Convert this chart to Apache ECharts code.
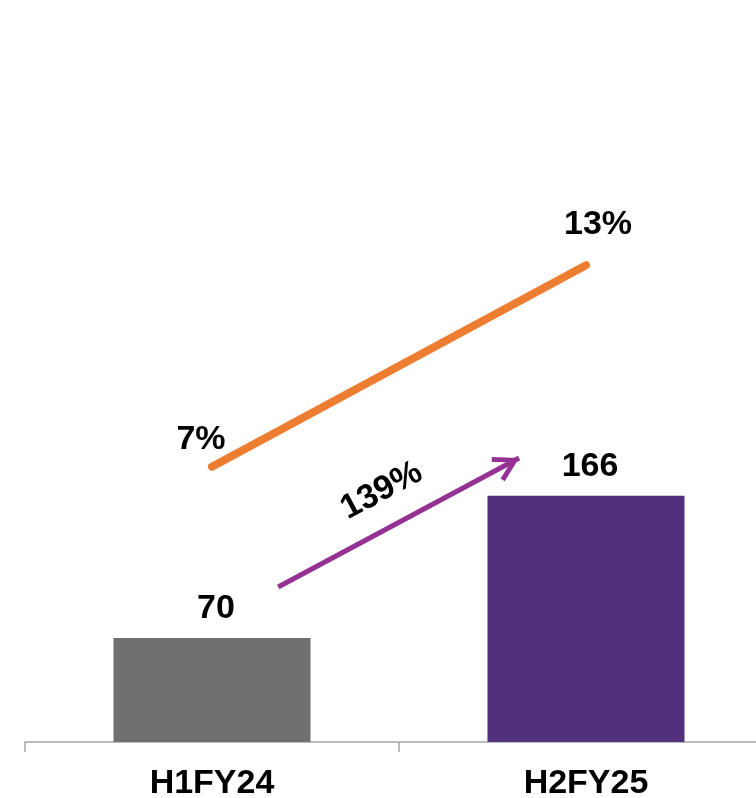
<!DOCTYPE html>
<html>
<head>
<meta charset="utf-8">
<script src="https://cdn.jsdelivr.net/npm/echarts@6/dist/echarts.min.js"></script>
<style>
  html, body { margin: 0; padding: 0; background: #ffffff; }
  #chart { width: 756px; height: 798px; }
</style>
</head>
<body>
<div id="chart"></div>
<script>
// Half-year periods
const categories = ['H1FY24', 'H2FY25'];
// Bar values (absolute)
const barValues = [70, 166];
// Margin line values (%)
const marginValues = [7, 13];
// Growth annotation
const growthLabel = '139%';
// Growth arrow ends, in [period position, bar value] units
const arrowFrom = [0.177, 104.4];
const arrowTo = [0.821, 191.4];

const FONT = '"Liberation Sans", Arial, sans-serif';
const FONT_SIZE = 34;
const barColors = ['#717070', '#52307a'];

const chart = echarts.init(document.getElementById('chart'), null, { renderer: 'canvas' });

chart.setOption({
  animation: false,
  backgroundColor: '#ffffff',
  grid: {
    left: 25, top: 0, width: 748, bottom: 56,
    containLabel: false,
    outerBoundsMode: 'none'
  },
  xAxis: [
    {
      type: 'category',
      data: categories,
      axisLine: { show: true, lineStyle: { color: '#a6a6a6', width: 1.5 } },
      axisTick: { show: true, length: 10, lineStyle: { color: '#a6a6a6', width: 1.5 } },
      axisLabel: {
        margin: 25,
        color: '#000000',
        fontFamily: FONT,
        fontWeight: 'bold',
        fontSize: FONT_SIZE
      },
      splitLine: { show: false }
    },
    {
      type: 'value',
      min: -0.5,
      max: 1.5,
      show: false
    }
  ],
  yAxis: [
    { type: 'value', min: 0, max: 500, show: false },
    { type: 'value', min: -1.2, max: 20.9, show: false }
  ],
  series: [
    {
      name: 'Value',
      type: 'bar',
      xAxisIndex: 0,
      yAxisIndex: 0,
      barWidth: 197,
      data: barValues.map((v, i) => ({ value: v, itemStyle: { color: barColors[i] } })),
      label: {
        show: true,
        position: 'top',
        distance: 5,
        offset: [4, -7],
        color: '#000000',
        fontFamily: FONT,
        fontWeight: 'bold',
        fontSize: FONT_SIZE
      }
    },
    {
      name: 'Margin',
      type: 'line',
      xAxisIndex: 0,
      yAxisIndex: 1,
      symbol: 'circle',
      symbolSize: 1,
      itemStyle: { color: '#ed7d31' },
      lineStyle: { color: '#ed7d31', width: 8, cap: 'round' },
      data: marginValues.map((v, i) => ({
        value: v,
        label: {
          show: true,
          position: 'top',
          distance: 5,
          offset: i === 0 ? [-11, -5] : [12, -18],
          formatter: '{c}%',
          color: '#000000',
          fontFamily: FONT,
          fontWeight: 'bold',
          fontSize: FONT_SIZE
        }
      })),
      z: 3
    },
    {
      name: 'Growth',
      type: 'line',
      xAxisIndex: 1,
      yAxisIndex: 0,
      data: [],
      silent: true,
      markLine: {
        silent: true,
        symbol: ['none', 'path://M0,0 L14,24 L9.5,26.5 L0,9.5 L-9.5,26.5 L-14,24 Z'],
        symbolSize: [28, 26],
        symbolOffset: [[0, 0], [0, 13]],
        symbolKeepAspect: true,
        lineStyle: { color: '#943193', width: 5, type: 'solid' },
        itemStyle: { color: '#943193' },
        label: {
          show: true,
          position: 'insideMiddleTop',
          distance: 19,
          formatter: growthLabel,
          color: '#000000',
          fontFamily: FONT,
          fontWeight: 'bold',
          fontSize: FONT_SIZE
        },
        data: [[{ coord: arrowFrom }, { coord: arrowTo }]]
      }
    }
  ]
});
</script>
</body>
</html>
